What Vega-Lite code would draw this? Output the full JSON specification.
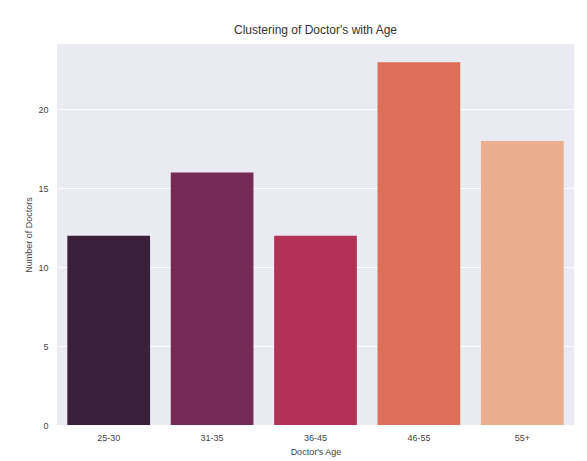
{
  "$schema": "https://vega.github.io/schema/vega-lite/v6.json",
  "autosize": {"type": "none"},
  "width": 517,
  "height": 381,
  "padding": {"left": 57, "top": 44, "right": 13, "bottom": 36},
  "background": "white",
  "title": {
    "text": "Clustering of Doctor's with Age",
    "font": "Liberation Sans",
    "fontSize": 12,
    "fontWeight": "normal",
    "color": "#333333",
    "offset": 7,
    "anchor": "middle"
  },
  "data": {
    "values": [
      {"age": "25-30", "count": 12},
      {"age": "31-35", "count": 16},
      {"age": "36-45", "count": 12},
      {"age": "46-55", "count": 23},
      {"age": "55+", "count": 18}
    ]
  },
  "mark": {"type": "bar"},
  "encoding": {
    "x": {
      "field": "age",
      "type": "nominal",
      "sort": null,
      "title": "Doctor's Age",
      "scale": {"paddingInner": 0.2, "paddingOuter": 0.1},
      "axis": {"labelAngle": 0, "ticks": false, "domain": false, "grid": false, "labelPadding": 8, "titlePadding": 5}
    },
    "y": {
      "field": "count",
      "type": "quantitative",
      "title": "Number of Doctors",
      "scale": {"domain": [0, 24.15], "nice": false},
      "axis": {"values": [0, 5, 10, 15, 20], "ticks": false, "domain": false, "grid": true, "gridColor": "white", "gridWidth": 1, "labelPadding": 9, "titlePadding": 4}
    },
    "color": {
      "field": "age",
      "type": "nominal",
      "sort": null,
      "legend": null,
      "scale": {"range": ["#3C1F3B", "#762A56", "#B43156", "#DD6E57", "#EAAE8E"]}
    }
  },
  "config": {
    "view": {"fill": "#EAEAF2", "stroke": null},
    "axis": {
      "labelFont": "Liberation Sans",
      "titleFont": "Liberation Sans",
      "labelFontSize": 9,
      "titleFontSize": 9,
      "titleFontWeight": "normal",
      "labelColor": "#444444",
      "titleColor": "#444444"
    }
  }
}
